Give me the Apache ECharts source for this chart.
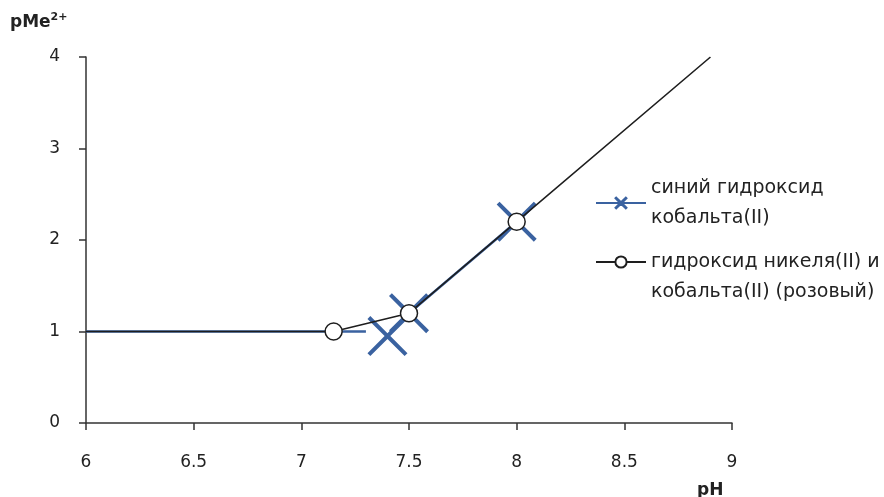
<!DOCTYPE html>
<html>
<head>
<meta charset="utf-8">
<script src="https://cdn.jsdelivr.net/npm/echarts@6/dist/echarts.min.js"></script>
<style>
html,body{margin:0;padding:0;background:#fff;}
#c{width:884px;height:497px;}
</style>
</head>
<body>
<div id="c"></div>
<script>
// ---- data ----
const xTicks = [6, 6.5, 7, 7.5, 8, 8.5, 9];
const yTicks = [0, 1, 2, 3, 4];
const blueName = 'синий гидроксид\nкобальта(II)';
const blackName = 'гидроксид никеля(II) и\nкобальта(II) (розовый)';
const bluePH  = [6, 7.3, 7.35, 7.4, 7.5, 8];
const bluePMe = [1, 1, null, 0.95, 1.2, 2.2];
const blueUnmarked = [0, 1];
const blackPH  = [6, 7.15, 7.5, 8, 8.9];
const blackPMe = [1, 1, 1.2, 2.2, 4.0];
const blackUnmarked = [0, 4];

const FONT = 'DejaVu Sans';
const BLUE = '#3a62a0';
const DARK = '#1e1e1e';
const X_PATH = 'path://M0,1L1,0L7,6L13,0L14,1L8,7L14,13L13,14L7,8L1,14L0,13L6,7Z';

function build(ph, pme, unmarked) {
  return ph.map((x, i) => {
    const item = { value: [x, pme[i] === null ? '-' : pme[i]] };
    if (unmarked.indexOf(i) >= 0 || pme[i] === null) item.symbol = 'none';
    return item;
  });
}

const LH = 30;
const legendBase = {
  orient: 'vertical', padding: 0,
  itemWidth: 50, itemHeight: 14,
  textStyle: { fontSize: 19, fontFamily: FONT, color: '#222', lineHeight: LH }
};

const chart = echarts.init(document.getElementById('c'), null, { renderer: 'canvas' });
chart.setOption({
  animation: false,
  backgroundColor: '#fff',
  textStyle: { fontFamily: FONT },
  grid: { left: 86, right: 152, top: 57, bottom: 74 },
  xAxis: {
    type: 'value',
    min: xTicks[0], max: xTicks[xTicks.length - 1], interval: 0.5,
    axisLine: { lineStyle: { color: '#333', width: 1.5 } },
    axisTick: { show: true, length: 7, lineStyle: { color: '#333', width: 1.5 } },
    axisLabel: { color: '#222', fontSize: 17, fontFamily: FONT, margin: 31,
      formatter: v => String(v) },
    splitLine: { show: false }
  },
  yAxis: {
    type: 'value',
    min: yTicks[0], max: yTicks[yTicks.length - 1], interval: 1,
    axisLine: { show: true, lineStyle: { color: '#333', width: 1.5 } },
    axisTick: { show: true, length: 7, lineStyle: { color: '#333', width: 1.5 } },
    axisLabel: { color: '#222', fontSize: 17, fontFamily: FONT, margin: 26 },
    splitLine: { show: false }
  },
  legend: [
    Object.assign({}, legendBase, {
      left: 595, top: 203 - LH,
      data: [{ name: blueName, itemStyle: { borderWidth: 1.8, borderColor: BLUE } }]
    }),
    Object.assign({}, legendBase, {
      left: 595, top: 262 - 1.5 * LH,
      formatter: name => ' \n' + name,
      data: [{ name: blackName }]
    })
  ],
  graphic: [
    { type: 'text', left: 10, top: 12,
      style: { text: '{a|pMe}{s|2+}', rich: {
        a: { fontSize: 17, fontWeight: 'bold', fontFamily: FONT, fill: '#222' },
        s: { fontSize: 11, fontWeight: 'bold', fontFamily: FONT, fill: '#222', padding: [0, 0, 10, 0] }
      } } },
    { type: 'text', left: 697, top: 482,
      style: { text: 'pH', fontSize: 17, fontWeight: 'bold', fontFamily: FONT, fill: '#222' } }
  ],
  series: [
    {
      name: blueName, type: 'line',
      data: build(bluePH, bluePMe, blueUnmarked),
      symbol: X_PATH, symbolSize: 40,
      showAllSymbol: true,
      lineStyle: { color: BLUE, width: 2.5 },
      itemStyle: { color: BLUE },
      connectNulls: false, z: 2
    },
    {
      name: blackName, type: 'line',
      data: build(blackPH, blackPMe, blackUnmarked),
      symbol: 'circle', symbolSize: 17,
      showAllSymbol: true,
      lineStyle: { color: DARK, width: 1.6 },
      itemStyle: { color: '#fff', borderColor: DARK, borderWidth: 1.5 },
      z: 3
    }
  ]
});
</script>
</body>
</html>
